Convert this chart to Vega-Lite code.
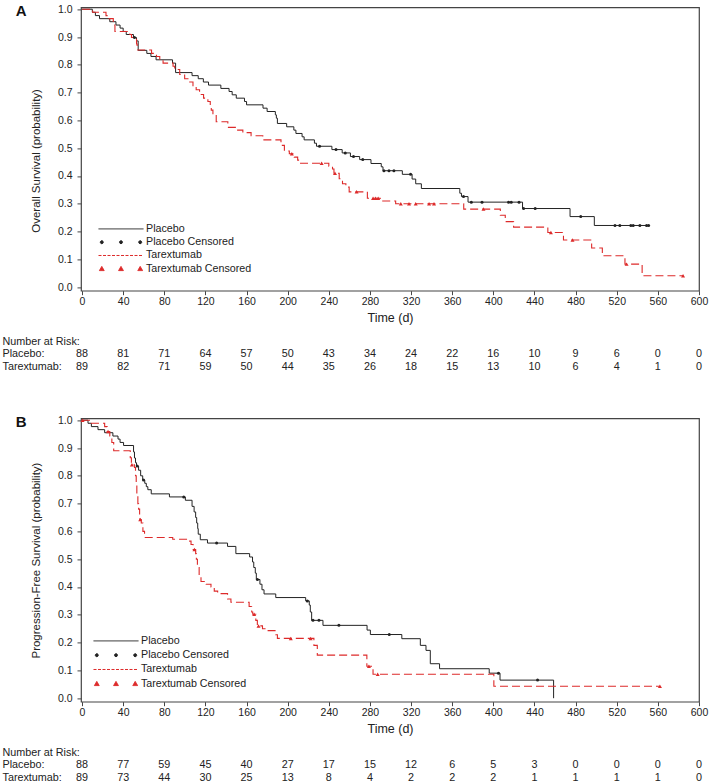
{
"$schema": "https://vega.github.io/schema/vega-lite/v6.json",
"background": "white",
"padding": {"left": 2, "top": 3.4, "right": 0, "bottom": 0},
"spacing": 0,
"config": {
 "font": "Liberation Sans",
 "view": {"stroke": "#444", "strokeWidth": 1.2},
 "axis": {"labelColor": "#222", "titleColor": "#222", "tickColor": "#444", "domain": false, "grid": false, "labelFontSize": 10.5, "titleFontWeight": "normal", "tickSize": 4, "labelFlush": false},
 "legend": {"symbolOpacity": 1, "symbolStrokeWidth": 1}
},
"datasets": {
 "km": [
  {"p":"A","g":"Placebo","t":0,"s":1},{"p":"A","g":"Placebo","t":10,"s":0.989},{"p":"A","g":"Placebo","t":13,"s":0.977},{"p":"A","g":"Placebo","t":17,"s":0.966},{"p":"A","g":"Placebo","t":27,"s":0.955},{"p":"A","g":"Placebo","t":33,"s":0.943},{"p":"A","g":"Placebo","t":37,"s":0.932},{"p":"A","g":"Placebo","t":40,"s":0.92},{"p":"A","g":"Placebo","t":43,"s":0.909},{"p":"A","g":"Placebo","t":50,"s":0.898},{"p":"A","g":"Placebo","t":53,"s":0.886},{"p":"A","g":"Placebo","t":54.6,"s":0.852},{"p":"A","g":"Placebo","t":63,"s":0.841},{"p":"A","g":"Placebo","t":67,"s":0.83},{"p":"A","g":"Placebo","t":72,"s":0.818},{"p":"A","g":"Placebo","t":88,"s":0.806},{"p":"A","g":"Placebo","t":91,"s":0.772},{"p":"A","g":"Placebo","t":107,"s":0.761},{"p":"A","g":"Placebo","t":113,"s":0.75},{"p":"A","g":"Placebo","t":118,"s":0.738},{"p":"A","g":"Placebo","t":123,"s":0.727},{"p":"A","g":"Placebo","t":135,"s":0.715},{"p":"A","g":"Placebo","t":143,"s":0.704},{"p":"A","g":"Placebo","t":146,"s":0.692},{"p":"A","g":"Placebo","t":150,"s":0.68},{"p":"A","g":"Placebo","t":158,"s":0.668},{"p":"A","g":"Placebo","t":160,"s":0.656},{"p":"A","g":"Placebo","t":176,"s":0.644},{"p":"A","g":"Placebo","t":180,"s":0.632},{"p":"A","g":"Placebo","t":188,"s":0.62},{"p":"A","g":"Placebo","t":189,"s":0.608},{"p":"A","g":"Placebo","t":190,"s":0.589},{"p":"A","g":"Placebo","t":199,"s":0.577},{"p":"A","g":"Placebo","t":206,"s":0.565},{"p":"A","g":"Placebo","t":208,"s":0.553},{"p":"A","g":"Placebo","t":214,"s":0.541},{"p":"A","g":"Placebo","t":216,"s":0.53},{"p":"A","g":"Placebo","t":226,"s":0.518},{"p":"A","g":"Placebo","t":228,"s":0.507},{"p":"A","g":"Placebo","t":243,"s":0.495},{"p":"A","g":"Placebo","t":253,"s":0.483},{"p":"A","g":"Placebo","t":261,"s":0.47},{"p":"A","g":"Placebo","t":270,"s":0.459},{"p":"A","g":"Placebo","t":281,"s":0.445},{"p":"A","g":"Placebo","t":291,"s":0.433},{"p":"A","g":"Placebo","t":292.7,"s":0.419},{"p":"A","g":"Placebo","t":311.5,"s":0.406},{"p":"A","g":"Placebo","t":321,"s":0.389},{"p":"A","g":"Placebo","t":324.5,"s":0.372},{"p":"A","g":"Placebo","t":330,"s":0.355},{"p":"A","g":"Placebo","t":367.4,"s":0.338},{"p":"A","g":"Placebo","t":369,"s":0.326},{"p":"A","g":"Placebo","t":375.4,"s":0.306},{"p":"A","g":"Placebo","t":428.4,"s":0.283},{"p":"A","g":"Placebo","t":474.6,"s":0.254},{"p":"A","g":"Placebo","t":498.2,"s":0.222},{"p":"A","g":"Placebo","t":551,"s":0.222},
  {"p":"A","g":"Placebo Censored","t":51,"s":0.898},{"p":"A","g":"Placebo Censored","t":231,"s":0.507},{"p":"A","g":"Placebo Censored","t":247,"s":0.495},{"p":"A","g":"Placebo Censored","t":256,"s":0.483},{"p":"A","g":"Placebo Censored","t":264,"s":0.47},{"p":"A","g":"Placebo Censored","t":273,"s":0.459},{"p":"A","g":"Placebo Censored","t":293.6,"s":0.419},{"p":"A","g":"Placebo Censored","t":298.5,"s":0.419},{"p":"A","g":"Placebo Censored","t":303.3,"s":0.419},{"p":"A","g":"Placebo Censored","t":319.5,"s":0.406},{"p":"A","g":"Placebo Censored","t":371,"s":0.326},{"p":"A","g":"Placebo Censored","t":378.6,"s":0.306},{"p":"A","g":"Placebo Censored","t":389,"s":0.306},{"p":"A","g":"Placebo Censored","t":414.8,"s":0.306},{"p":"A","g":"Placebo Censored","t":417.4,"s":0.306},{"p":"A","g":"Placebo Censored","t":425,"s":0.306},{"p":"A","g":"Placebo Censored","t":429.4,"s":0.283},{"p":"A","g":"Placebo Censored","t":440.7,"s":0.283},{"p":"A","g":"Placebo Censored","t":485,"s":0.254},{"p":"A","g":"Placebo Censored","t":518.3,"s":0.222},{"p":"A","g":"Placebo Censored","t":523,"s":0.222},{"p":"A","g":"Placebo Censored","t":533.7,"s":0.222},{"p":"A","g":"Placebo Censored","t":536,"s":0.222},{"p":"A","g":"Placebo Censored","t":542.5,"s":0.222},{"p":"A","g":"Placebo Censored","t":549,"s":0.222},{"p":"A","g":"Placebo Censored","t":551,"s":0.222},
  {"p":"A","g":"Tarextumab","t":0,"s":1},{"p":"A","g":"Tarextumab","t":10.3,"s":0.989},{"p":"A","g":"Tarextumab","t":23.3,"s":0.977},{"p":"A","g":"Tarextumab","t":25.5,"s":0.966},{"p":"A","g":"Tarextumab","t":30.4,"s":0.943},{"p":"A","g":"Tarextumab","t":32,"s":0.92},{"p":"A","g":"Tarextumab","t":46.5,"s":0.909},{"p":"A","g":"Tarextumab","t":48.1,"s":0.898},{"p":"A","g":"Tarextumab","t":53,"s":0.875},{"p":"A","g":"Tarextumab","t":53.6,"s":0.853},{"p":"A","g":"Tarextumab","t":67.6,"s":0.841},{"p":"A","g":"Tarextumab","t":72.4,"s":0.83},{"p":"A","g":"Tarextumab","t":75.6,"s":0.818},{"p":"A","g":"Tarextumab","t":78.8,"s":0.806},{"p":"A","g":"Tarextumab","t":88.5,"s":0.795},{"p":"A","g":"Tarextumab","t":90.1,"s":0.783},{"p":"A","g":"Tarextumab","t":95,"s":0.765},{"p":"A","g":"Tarextumab","t":99.8,"s":0.75},{"p":"A","g":"Tarextumab","t":103,"s":0.738},{"p":"A","g":"Tarextumab","t":107.9,"s":0.722},{"p":"A","g":"Tarextumab","t":111,"s":0.71},{"p":"A","g":"Tarextumab","t":114.3,"s":0.693},{"p":"A","g":"Tarextumab","t":118.2,"s":0.68},{"p":"A","g":"Tarextumab","t":122.4,"s":0.668},{"p":"A","g":"Tarextumab","t":124.7,"s":0.65},{"p":"A","g":"Tarextumab","t":125.7,"s":0.637},{"p":"A","g":"Tarextumab","t":127.3,"s":0.62},{"p":"A","g":"Tarextumab","t":130.5,"s":0.595},{"p":"A","g":"Tarextumab","t":141.8,"s":0.575},{"p":"A","g":"Tarextumab","t":149.9,"s":0.565},{"p":"A","g":"Tarextumab","t":156.4,"s":0.556},{"p":"A","g":"Tarextumab","t":164.4,"s":0.545},{"p":"A","g":"Tarextumab","t":175.8,"s":0.53},{"p":"A","g":"Tarextumab","t":193.5,"s":0.51},{"p":"A","g":"Tarextumab","t":196.8,"s":0.49},{"p":"A","g":"Tarextumab","t":201.6,"s":0.48},{"p":"A","g":"Tarextumab","t":206.4,"s":0.468},{"p":"A","g":"Tarextumab","t":209.7,"s":0.457},{"p":"A","g":"Tarextumab","t":211.3,"s":0.446},{"p":"A","g":"Tarextumab","t":240,"s":0.435},{"p":"A","g":"Tarextumab","t":243.6,"s":0.425},{"p":"A","g":"Tarextumab","t":245,"s":0.41},{"p":"A","g":"Tarextumab","t":250.1,"s":0.39},{"p":"A","g":"Tarextumab","t":253.3,"s":0.372},{"p":"A","g":"Tarextumab","t":256.6,"s":0.36},{"p":"A","g":"Tarextumab","t":259.8,"s":0.343},{"p":"A","g":"Tarextumab","t":277.5,"s":0.32},{"p":"A","g":"Tarextumab","t":290,"s":0.31},{"p":"A","g":"Tarextumab","t":305,"s":0.3},{"p":"A","g":"Tarextumab","t":371.2,"s":0.281},{"p":"A","g":"Tarextumab","t":406.8,"s":0.259},{"p":"A","g":"Tarextumab","t":411.6,"s":0.236},{"p":"A","g":"Tarextumab","t":419.7,"s":0.216},{"p":"A","g":"Tarextumab","t":453,"s":0.197},{"p":"A","g":"Tarextumab","t":468.2,"s":0.17},{"p":"A","g":"Tarextumab","t":495.6,"s":0.141},{"p":"A","g":"Tarextumab","t":506,"s":0.113},{"p":"A","g":"Tarextumab","t":528,"s":0.083},{"p":"A","g":"Tarextumab","t":544.7,"s":0.041},{"p":"A","g":"Tarextumab","t":584.5,"s":0.041},
  {"p":"A","g":"Tarextumab Censored","t":204,"s":0.48},{"p":"A","g":"Tarextumab Censored","t":233,"s":0.446},{"p":"A","g":"Tarextumab Censored","t":246,"s":0.41},{"p":"A","g":"Tarextumab Censored","t":267,"s":0.343},{"p":"A","g":"Tarextumab Censored","t":283,"s":0.32},{"p":"A","g":"Tarextumab Censored","t":285.5,"s":0.32},{"p":"A","g":"Tarextumab Censored","t":288,"s":0.32},{"p":"A","g":"Tarextumab Censored","t":310,"s":0.3},{"p":"A","g":"Tarextumab Censored","t":318,"s":0.3},{"p":"A","g":"Tarextumab Censored","t":324.5,"s":0.3},{"p":"A","g":"Tarextumab Censored","t":337.5,"s":0.3},{"p":"A","g":"Tarextumab Censored","t":342.3,"s":0.3},{"p":"A","g":"Tarextumab Censored","t":390.4,"s":0.281},{"p":"A","g":"Tarextumab Censored","t":456,"s":0.197},{"p":"A","g":"Tarextumab Censored","t":477,"s":0.17},{"p":"A","g":"Tarextumab Censored","t":529.6,"s":0.083},{"p":"A","g":"Tarextumab Censored","t":584.5,"s":0.041},
  {"p":"B","g":"Placebo","t":0,"s":1},{"p":"B","g":"Placebo","t":5.8,"s":0.989},{"p":"B","g":"Placebo","t":9.1,"s":0.977},{"p":"B","g":"Placebo","t":15.5,"s":0.966},{"p":"B","g":"Placebo","t":22,"s":0.955},{"p":"B","g":"Placebo","t":30,"s":0.943},{"p":"B","g":"Placebo","t":35,"s":0.932},{"p":"B","g":"Placebo","t":37,"s":0.92},{"p":"B","g":"Placebo","t":40.4,"s":0.909},{"p":"B","g":"Placebo","t":50.1,"s":0.886},{"p":"B","g":"Placebo","t":51,"s":0.864},{"p":"B","g":"Placebo","t":52,"s":0.847},{"p":"B","g":"Placebo","t":53,"s":0.835},{"p":"B","g":"Placebo","t":55,"s":0.82},{"p":"B","g":"Placebo","t":57,"s":0.8},{"p":"B","g":"Placebo","t":59,"s":0.785},{"p":"B","g":"Placebo","t":61,"s":0.773},{"p":"B","g":"Placebo","t":62.5,"s":0.761},{"p":"B","g":"Placebo","t":64,"s":0.75},{"p":"B","g":"Placebo","t":67.3,"s":0.735},{"p":"B","g":"Placebo","t":85,"s":0.724},{"p":"B","g":"Placebo","t":100.5,"s":0.712},{"p":"B","g":"Placebo","t":107,"s":0.69},{"p":"B","g":"Placebo","t":109,"s":0.67},{"p":"B","g":"Placebo","t":110.5,"s":0.65},{"p":"B","g":"Placebo","t":111.5,"s":0.63},{"p":"B","g":"Placebo","t":112.5,"s":0.61},{"p":"B","g":"Placebo","t":113,"s":0.59},{"p":"B","g":"Placebo","t":115,"s":0.57},{"p":"B","g":"Placebo","t":122,"s":0.558},{"p":"B","g":"Placebo","t":141.5,"s":0.546},{"p":"B","g":"Placebo","t":149.6,"s":0.52},{"p":"B","g":"Placebo","t":163,"s":0.508},{"p":"B","g":"Placebo","t":165.8,"s":0.49},{"p":"B","g":"Placebo","t":167,"s":0.47},{"p":"B","g":"Placebo","t":168.5,"s":0.45},{"p":"B","g":"Placebo","t":169.5,"s":0.427},{"p":"B","g":"Placebo","t":173,"s":0.41},{"p":"B","g":"Placebo","t":175,"s":0.39},{"p":"B","g":"Placebo","t":177,"s":0.375},{"p":"B","g":"Placebo","t":188.4,"s":0.362},{"p":"B","g":"Placebo","t":217.5,"s":0.35},{"p":"B","g":"Placebo","t":221,"s":0.335},{"p":"B","g":"Placebo","t":222,"s":0.31},{"p":"B","g":"Placebo","t":223.3,"s":0.28},{"p":"B","g":"Placebo","t":234.3,"s":0.262},{"p":"B","g":"Placebo","t":277.2,"s":0.245},{"p":"B","g":"Placebo","t":280.4,"s":0.229},{"p":"B","g":"Placebo","t":311,"s":0.214},{"p":"B","g":"Placebo","t":329,"s":0.19},{"p":"B","g":"Placebo","t":334.5,"s":0.172},{"p":"B","g":"Placebo","t":338.7,"s":0.124},{"p":"B","g":"Placebo","t":347.7,"s":0.106},{"p":"B","g":"Placebo","t":396,"s":0.09},{"p":"B","g":"Placebo","t":406.5,"s":0.065},{"p":"B","g":"Placebo","t":458.6,"s":0},
  {"p":"B","g":"Placebo Censored","t":53.6,"s":0.835},{"p":"B","g":"Placebo Censored","t":59.8,"s":0.785},{"p":"B","g":"Placebo Censored","t":98.9,"s":0.724},{"p":"B","g":"Placebo Censored","t":130.9,"s":0.558},{"p":"B","g":"Placebo Censored","t":170.6,"s":0.427},{"p":"B","g":"Placebo Censored","t":219.1,"s":0.35},{"p":"B","g":"Placebo Censored","t":224.6,"s":0.28},{"p":"B","g":"Placebo Censored","t":230.4,"s":0.28},{"p":"B","g":"Placebo Censored","t":249.8,"s":0.262},{"p":"B","g":"Placebo Censored","t":298.8,"s":0.229},{"p":"B","g":"Placebo Censored","t":405,"s":0.09},{"p":"B","g":"Placebo Censored","t":443,"s":0.065},
  {"p":"B","g":"Tarextumab","t":0,"s":1},{"p":"B","g":"Tarextumab","t":9,"s":0.989},{"p":"B","g":"Tarextumab","t":22,"s":0.977},{"p":"B","g":"Tarextumab","t":24.4,"s":0.959},{"p":"B","g":"Tarextumab","t":27,"s":0.943},{"p":"B","g":"Tarextumab","t":29,"s":0.92},{"p":"B","g":"Tarextumab","t":30.8,"s":0.89},{"p":"B","g":"Tarextumab","t":46.9,"s":0.865},{"p":"B","g":"Tarextumab","t":48,"s":0.84},{"p":"B","g":"Tarextumab","t":51,"s":0.83},{"p":"B","g":"Tarextumab","t":52,"s":0.8},{"p":"B","g":"Tarextumab","t":52.7,"s":0.77},{"p":"B","g":"Tarextumab","t":53.3,"s":0.73},{"p":"B","g":"Tarextumab","t":54.3,"s":0.7},{"p":"B","g":"Tarextumab","t":55,"s":0.68},{"p":"B","g":"Tarextumab","t":56,"s":0.655},{"p":"B","g":"Tarextumab","t":56.3,"s":0.643},{"p":"B","g":"Tarextumab","t":57.6,"s":0.63},{"p":"B","g":"Tarextumab","t":59.2,"s":0.6},{"p":"B","g":"Tarextumab","t":60.8,"s":0.578},{"p":"B","g":"Tarextumab","t":88.2,"s":0.572},{"p":"B","g":"Tarextumab","t":102.8,"s":0.565},{"p":"B","g":"Tarextumab","t":106,"s":0.553},{"p":"B","g":"Tarextumab","t":108,"s":0.535},{"p":"B","g":"Tarextumab","t":110.5,"s":0.52},{"p":"B","g":"Tarextumab","t":111.2,"s":0.5},{"p":"B","g":"Tarextumab","t":112.2,"s":0.47},{"p":"B","g":"Tarextumab","t":113.9,"s":0.44},{"p":"B","g":"Tarextumab","t":115.7,"s":0.42},{"p":"B","g":"Tarextumab","t":120.6,"s":0.41},{"p":"B","g":"Tarextumab","t":125.4,"s":0.4},{"p":"B","g":"Tarextumab","t":128.6,"s":0.385},{"p":"B","g":"Tarextumab","t":131.9,"s":0.376},{"p":"B","g":"Tarextumab","t":141.5,"s":0.357},{"p":"B","g":"Tarextumab","t":144.8,"s":0.345},{"p":"B","g":"Tarextumab","t":162.5,"s":0.33},{"p":"B","g":"Tarextumab","t":165,"s":0.31},{"p":"B","g":"Tarextumab","t":166,"s":0.302},{"p":"B","g":"Tarextumab","t":169,"s":0.28},{"p":"B","g":"Tarextumab","t":170.5,"s":0.26},{"p":"B","g":"Tarextumab","t":175.5,"s":0.25},{"p":"B","g":"Tarextumab","t":178.7,"s":0.243},{"p":"B","g":"Tarextumab","t":188.4,"s":0.228},{"p":"B","g":"Tarextumab","t":190,"s":0.215},{"p":"B","g":"Tarextumab","t":225.5,"s":0.19},{"p":"B","g":"Tarextumab","t":228.8,"s":0.155},{"p":"B","g":"Tarextumab","t":277,"s":0.115},{"p":"B","g":"Tarextumab","t":283,"s":0.086},{"p":"B","g":"Tarextumab","t":400.5,"s":0.043},{"p":"B","g":"Tarextumab","t":562,"s":0.043},
  {"p":"B","g":"Tarextumab Censored","t":0.5,"s":1},{"p":"B","g":"Tarextumab Censored","t":25.3,"s":0.959},{"p":"B","g":"Tarextumab Censored","t":48.5,"s":0.84},{"p":"B","g":"Tarextumab Censored","t":56.6,"s":0.643},{"p":"B","g":"Tarextumab Censored","t":109.3,"s":0.535},{"p":"B","g":"Tarextumab Censored","t":167.4,"s":0.302},{"p":"B","g":"Tarextumab Censored","t":171.6,"s":0.26},{"p":"B","g":"Tarextumab Censored","t":203,"s":0.215},{"p":"B","g":"Tarextumab Censored","t":222.3,"s":0.215},{"p":"B","g":"Tarextumab Censored","t":279,"s":0.115},{"p":"B","g":"Tarextumab Censored","t":287.5,"s":0.086},{"p":"B","g":"Tarextumab Censored","t":562,"s":0.043}
 ],
 "risk": [
  {"p":"A","row":"Placebo:","t":0,"n":88},{"p":"A","row":"Placebo:","t":40,"n":81},{"p":"A","row":"Placebo:","t":80,"n":71},{"p":"A","row":"Placebo:","t":120,"n":64},{"p":"A","row":"Placebo:","t":160,"n":57},{"p":"A","row":"Placebo:","t":200,"n":50},{"p":"A","row":"Placebo:","t":240,"n":43},{"p":"A","row":"Placebo:","t":280,"n":34},{"p":"A","row":"Placebo:","t":320,"n":24},{"p":"A","row":"Placebo:","t":360,"n":22},{"p":"A","row":"Placebo:","t":400,"n":16},{"p":"A","row":"Placebo:","t":440,"n":10},{"p":"A","row":"Placebo:","t":480,"n":9},{"p":"A","row":"Placebo:","t":520,"n":6},{"p":"A","row":"Placebo:","t":560,"n":0},{"p":"A","row":"Placebo:","t":600,"n":0},
  {"p":"A","row":"Tarextumab:","t":0,"n":89},{"p":"A","row":"Tarextumab:","t":40,"n":82},{"p":"A","row":"Tarextumab:","t":80,"n":71},{"p":"A","row":"Tarextumab:","t":120,"n":59},{"p":"A","row":"Tarextumab:","t":160,"n":50},{"p":"A","row":"Tarextumab:","t":200,"n":44},{"p":"A","row":"Tarextumab:","t":240,"n":35},{"p":"A","row":"Tarextumab:","t":280,"n":26},{"p":"A","row":"Tarextumab:","t":320,"n":18},{"p":"A","row":"Tarextumab:","t":360,"n":15},{"p":"A","row":"Tarextumab:","t":400,"n":13},{"p":"A","row":"Tarextumab:","t":440,"n":10},{"p":"A","row":"Tarextumab:","t":480,"n":6},{"p":"A","row":"Tarextumab:","t":520,"n":4},{"p":"A","row":"Tarextumab:","t":560,"n":1},{"p":"A","row":"Tarextumab:","t":600,"n":0},
  {"p":"B","row":"Placebo:","t":0,"n":88},{"p":"B","row":"Placebo:","t":40,"n":77},{"p":"B","row":"Placebo:","t":80,"n":59},{"p":"B","row":"Placebo:","t":120,"n":45},{"p":"B","row":"Placebo:","t":160,"n":40},{"p":"B","row":"Placebo:","t":200,"n":27},{"p":"B","row":"Placebo:","t":240,"n":17},{"p":"B","row":"Placebo:","t":280,"n":15},{"p":"B","row":"Placebo:","t":320,"n":12},{"p":"B","row":"Placebo:","t":360,"n":6},{"p":"B","row":"Placebo:","t":400,"n":5},{"p":"B","row":"Placebo:","t":440,"n":3},{"p":"B","row":"Placebo:","t":480,"n":0},{"p":"B","row":"Placebo:","t":520,"n":0},{"p":"B","row":"Placebo:","t":560,"n":0},{"p":"B","row":"Placebo:","t":600,"n":0},
  {"p":"B","row":"Tarextumab:","t":0,"n":89},{"p":"B","row":"Tarextumab:","t":40,"n":73},{"p":"B","row":"Tarextumab:","t":80,"n":44},{"p":"B","row":"Tarextumab:","t":120,"n":30},{"p":"B","row":"Tarextumab:","t":160,"n":25},{"p":"B","row":"Tarextumab:","t":200,"n":13},{"p":"B","row":"Tarextumab:","t":240,"n":8},{"p":"B","row":"Tarextumab:","t":280,"n":4},{"p":"B","row":"Tarextumab:","t":320,"n":2},{"p":"B","row":"Tarextumab:","t":360,"n":2},{"p":"B","row":"Tarextumab:","t":400,"n":2},{"p":"B","row":"Tarextumab:","t":440,"n":1},{"p":"B","row":"Tarextumab:","t":480,"n":1},{"p":"B","row":"Tarextumab:","t":520,"n":1},{"p":"B","row":"Tarextumab:","t":560,"n":1},{"p":"B","row":"Tarextumab:","t":600,"n":0}
 ]
},
"resolve": {"legend": {"color": "independent", "shape": "independent", "strokeDash": "independent"}},
"vconcat": [
 {
  "width": 618, "height": 283.3,
  "title": {"text": "A", "orient": "left", "anchor": "end", "angle": 0, "align": "right", "baseline": "top", "fontSize": 15, "fontWeight": "bold", "offset": -6.5, "color": "#111"},
  "encoding": {
   "x": {"field": "t", "type": "quantitative", "scale": {"domain": [-1, 600], "nice": false, "zero": false}, "axis": {"values": [0,40,80,120,160,200,240,280,320,360,400,440,480,520,560,600], "title": "Time (d)", "titleFontSize": 12.5, "titlePadding": 4, "labelPadding": 2}},
   "y": {"field": "s", "type": "quantitative", "scale": {"domain": [-0.0126, 1.0065], "nice": false, "zero": false}, "axis": {"values": [0,0.1,0.2,0.3,0.4,0.5,0.6,0.7,0.8,0.9,1], "format": ".1f", "title": "Overall Survival (probability)", "titleFontSize": 11.5, "titlePadding": 15.5, "titleY": 153, "labelPadding": 5}}
  },
  "layer": [
   {"data": {"name": "km"}, "transform": [{"filter": "datum.p == 'A' && datum.g == 'Placebo'"}],
    "mark": {"type": "line", "interpolate": "step-after", "strokeWidth": 1},
    "encoding": {"color": {"field": "g", "type": "nominal",
      "scale": {"domain": ["Placebo", "Placebo Censored", "Tarextumab", "Tarextumab Censored"], "range": ["#222222", "#222222", "#dd2a2a", "#dd2a2a"]},
      "legend": {"title": null, "orient": "bottom-left", "offset": 16.5, "padding": 0, "symbolSize": 144, "symbolOffset": 16.5, "labelOffset": 18.5, "labelFontSize": 10.7, "labelColor": "#222", "rowPadding": 1.3}}}},
   {"data": {"name": "km"}, "transform": [{"filter": "datum.p == 'A' && datum.g == 'Tarextumab'"}],
    "mark": {"type": "line", "interpolate": "step-after", "strokeWidth": 1.1, "strokeDash": [8, 4]},
    "encoding": {"color": {"field": "g", "type": "nominal"}}},
   {"data": {"name": "km"}, "transform": [{"filter": "datum.p == 'A' && datum.g == 'Placebo Censored'"}],
    "mark": {"type": "point", "shape": "circle", "filled": true, "size": 9, "opacity": 1},
    "encoding": {"color": {"field": "g", "type": "nominal"}}},
   {"data": {"name": "km"}, "transform": [{"filter": "datum.p == 'A' && datum.g == 'Tarextumab Censored'"}],
    "mark": {"type": "point", "shape": "triangle-up", "filled": true, "size": 16, "opacity": 1},
    "encoding": {"color": {"field": "g", "type": "nominal"}}},
   {"data": {"name": "km"}, "transform": [{"filter": "datum.p == 'A'"}],
    "mark": {"type": "point", "filled": true, "size": 0},
    "encoding": {
     "color": {"field": "g", "type": "nominal"},
     "shape": {"field": "g", "type": "nominal", "scale": {"domain": ["Placebo", "Placebo Censored", "Tarextumab", "Tarextumab Censored"], "range": ["M-3.75,0H3.75", "M-3.45,0a0.25,0.25 0 1,0 0.5,0a0.25,0.25 0 1,0 -0.5,0M-0.25,0a0.25,0.25 0 1,0 0.5,0a0.25,0.25 0 1,0 -0.5,0M2.95,0a0.25,0.25 0 1,0 0.5,0a0.25,0.25 0 1,0 -0.5,0", "M-3.75,0H3.75", "M-3.6,0.3L-3.2,-0.4L-2.8,0.3ZM-0.4,0.3L0,-0.4L0.4,0.3ZM2.8,0.3L3.2,-0.4L3.6,0.3Z"]},
      "legend": {"title": null, "orient": "bottom-left", "offset": 16.5, "padding": 0, "symbolSize": 144, "symbolOffset": 16.5, "labelOffset": 18.5, "labelFontSize": 10.7, "labelColor": "#222", "rowPadding": 1.3}},
     "strokeDash": {"field": "g", "type": "nominal", "scale": {"domain": ["Placebo", "Placebo Censored", "Tarextumab", "Tarextumab Censored"], "range": [[1, 0], [1, 0], [3, 1.5], [1, 0]]},
      "legend": {"title": null, "orient": "bottom-left", "offset": 16.5, "padding": 0, "symbolSize": 144, "symbolOffset": 16.5, "labelOffset": 18.5, "labelFontSize": 10.7, "labelColor": "#222", "rowPadding": 1.3}}
    }},
   {"data": {"values": [{"txt": "HR, 1.34; 95% CI:  .95, 1.89"}]},
    "mark": {"type": "text", "align": "left", "baseline": "middle", "fontSize": 11.5, "color": "#222"},
    "encoding": {"x": {"datum": 434}, "y": {"datum": 0.913}, "text": {"field": "txt"}}},
   {"data": {"values": [{"txt": "P"}]},
    "mark": {"type": "text", "align": "left", "baseline": "middle", "fontSize": 11.5, "fontStyle": "italic", "color": "#222"},
    "encoding": {"x": {"datum": 430}, "y": {"datum": 0.859}, "text": {"field": "txt"}}},
   {"data": {"values": [{"txt": "-value = .09"}]},
    "mark": {"type": "text", "align": "left", "baseline": "middle", "fontSize": 11.5, "dx": 8, "color": "#222"},
    "encoding": {"x": {"datum": 430}, "y": {"datum": 0.859}, "text": {"field": "txt"}}}
  ]
 },
 {
  "width": 618, "height": 89.4,
  "view": {"stroke": null},
  "data": {"name": "risk"},
  "transform": [{"filter": "datum.p == 'A'"}],
  "mark": {"type": "text", "fontSize": 10.8, "color": "#222"},
  "encoding": {
   "x": {"field": "t", "type": "quantitative", "scale": {"domain": [-1, 600], "nice": false, "zero": false}, "axis": null},
   "y": {"field": "row", "type": "nominal", "sort": null, "scale": {"type": "point", "domain": ["Number at Risk:", "Placebo:", "Tarextumab:"], "padding": 0, "range": [16.7, 42.3]},
         "axis": {"title": null, "domain": false, "ticks": false, "tickSize": 0, "labelAlign": "left", "labelPadding": 79, "labelFontSize": 10.8, "labelColor": "#222"}},
   "text": {"field": "n", "type": "quantitative"}
  }
 },
 {
  "width": 618, "height": 283.3,
  "title": {"text": "B", "orient": "left", "anchor": "end", "angle": 0, "align": "right", "baseline": "top", "fontSize": 15, "fontWeight": "bold", "offset": -6.5, "color": "#111"},
  "encoding": {
   "x": {"field": "t", "type": "quantitative", "scale": {"domain": [-1, 600], "nice": false, "zero": false}, "axis": {"values": [0,40,80,120,160,200,240,280,320,360,400,440,480,520,560,600], "title": "Time (d)", "titleFontSize": 12.5, "titlePadding": 4, "labelPadding": 2}},
   "y": {"field": "s", "type": "quantitative", "scale": {"domain": [-0.0126, 1.0065], "nice": false, "zero": false}, "axis": {"values": [0,0.1,0.2,0.3,0.4,0.5,0.6,0.7,0.8,0.9,1], "format": ".1f", "title": "Progression-Free Survival (probability)", "titleFontSize": 11.5, "titlePadding": 15.5, "labelPadding": 5}}
  },
  "layer": [
   {"data": {"name": "km"}, "transform": [{"filter": "datum.p == 'B' && datum.g == 'Placebo'"}],
    "mark": {"type": "line", "interpolate": "step-after", "strokeWidth": 1},
    "encoding": {"color": {"field": "g", "type": "nominal",
      "scale": {"domain": ["Placebo", "Placebo Censored", "Tarextumab", "Tarextumab Censored"], "range": ["#222222", "#222222", "#dd2a2a", "#dd2a2a"]},
      "legend": {"title": null, "orient": "bottom-left", "offset": 12, "padding": 0, "symbolSize": 144, "symbolOffset": 16.5, "labelOffset": 18.5, "labelFontSize": 10.7, "labelColor": "#222", "rowPadding": 2.3}}}},
   {"data": {"name": "km"}, "transform": [{"filter": "datum.p == 'B' && datum.g == 'Tarextumab'"}],
    "mark": {"type": "line", "interpolate": "step-after", "strokeWidth": 1.1, "strokeDash": [8, 4]},
    "encoding": {"color": {"field": "g", "type": "nominal"}}},
   {"data": {"name": "km"}, "transform": [{"filter": "datum.p == 'B' && datum.g == 'Placebo Censored'"}],
    "mark": {"type": "point", "shape": "circle", "filled": true, "size": 9, "opacity": 1},
    "encoding": {"color": {"field": "g", "type": "nominal"}}},
   {"data": {"name": "km"}, "transform": [{"filter": "datum.p == 'B' && datum.g == 'Tarextumab Censored'"}],
    "mark": {"type": "point", "shape": "triangle-up", "filled": true, "size": 16, "opacity": 1},
    "encoding": {"color": {"field": "g", "type": "nominal"}}},
   {"data": {"name": "km"}, "transform": [{"filter": "datum.p == 'B'"}],
    "mark": {"type": "point", "filled": true, "size": 0},
    "encoding": {
     "color": {"field": "g", "type": "nominal"},
     "shape": {"field": "g", "type": "nominal", "scale": {"domain": ["Placebo", "Placebo Censored", "Tarextumab", "Tarextumab Censored"], "range": ["M-3.75,0H3.75", "M-3.45,0a0.25,0.25 0 1,0 0.5,0a0.25,0.25 0 1,0 -0.5,0M-0.25,0a0.25,0.25 0 1,0 0.5,0a0.25,0.25 0 1,0 -0.5,0M2.95,0a0.25,0.25 0 1,0 0.5,0a0.25,0.25 0 1,0 -0.5,0", "M-3.75,0H3.75", "M-3.6,0.3L-3.2,-0.4L-2.8,0.3ZM-0.4,0.3L0,-0.4L0.4,0.3ZM2.8,0.3L3.2,-0.4L3.6,0.3Z"]},
      "legend": {"title": null, "orient": "bottom-left", "offset": 12, "padding": 0, "symbolSize": 144, "symbolOffset": 16.5, "labelOffset": 18.5, "labelFontSize": 10.7, "labelColor": "#222", "rowPadding": 2.3}},
     "strokeDash": {"field": "g", "type": "nominal", "scale": {"domain": ["Placebo", "Placebo Censored", "Tarextumab", "Tarextumab Censored"], "range": [[1, 0], [1, 0], [3, 1.5], [1, 0]]},
      "legend": {"title": null, "orient": "bottom-left", "offset": 12, "padding": 0, "symbolSize": 144, "symbolOffset": 16.5, "labelOffset": 18.5, "labelFontSize": 10.7, "labelColor": "#222", "rowPadding": 2.3}}
    }},
   {"data": {"values": [{"txt": "HR, 1.43; 95% CI: 1.01, 2.01"}]},
    "mark": {"type": "text", "align": "left", "baseline": "middle", "fontSize": 11.5, "color": "#222"},
    "encoding": {"x": {"datum": 434.7}, "y": {"datum": 0.881}, "text": {"field": "txt"}}},
   {"data": {"values": [{"txt": "P"}]},
    "mark": {"type": "text", "align": "left", "baseline": "middle", "fontSize": 11.5, "fontStyle": "italic", "color": "#222"},
    "encoding": {"x": {"datum": 431.7}, "y": {"datum": 0.825}, "text": {"field": "txt"}}},
   {"data": {"values": [{"txt": "-value = .04"}]},
    "mark": {"type": "text", "align": "left", "baseline": "middle", "fontSize": 11.5, "dx": 8, "color": "#222"},
    "encoding": {"x": {"datum": 431.7}, "y": {"datum": 0.825}, "text": {"field": "txt"}}}
  ]
 },
 {
  "width": 618, "height": 48,
  "view": {"stroke": null},
  "data": {"name": "risk"},
  "transform": [{"filter": "datum.p == 'B'"}],
  "mark": {"type": "text", "fontSize": 10.8, "color": "#222"},
  "encoding": {
   "x": {"field": "t", "type": "quantitative", "scale": {"domain": [-1, 600], "nice": false, "zero": false}, "axis": null},
   "y": {"field": "row", "type": "nominal", "sort": null, "scale": {"type": "point", "domain": ["Number at Risk:", "Placebo:", "Tarextumab:"], "padding": 0, "range": [16.7, 42.3]},
         "axis": {"title": null, "domain": false, "ticks": false, "tickSize": 0, "labelAlign": "left", "labelPadding": 79, "labelFontSize": 10.8, "labelColor": "#222"}},
   "text": {"field": "n", "type": "quantitative"}
  }
 }
]
}
